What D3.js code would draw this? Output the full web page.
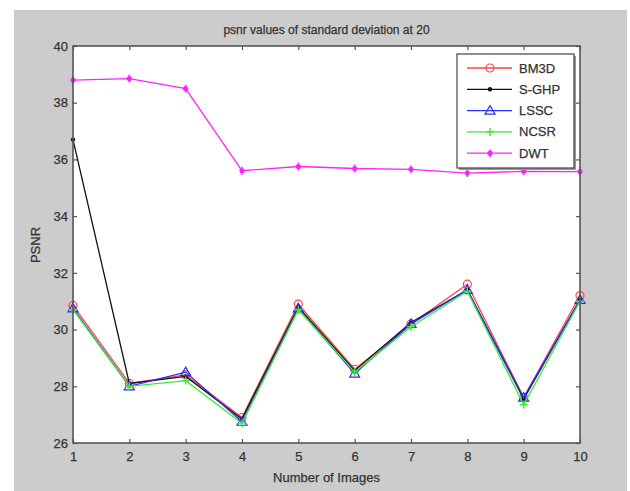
<!DOCTYPE html>
<html>
<head>
<meta charset="utf-8">
<script src="https://cdnjs.cloudflare.com/ajax/libs/d3/7.8.5/d3.min.js"></script>
<style>
    html, body { margin: 0; padding: 0; background: #fff; }
    svg text { font-family: "Liberation Sans", Arial, sans-serif; fill: #333; stroke: #333; stroke-width: 0.25px; }
</style>
</head>
<body>
<div id="chart"></div>
<script>
// data
var images = [1, 2, 3, 4, 5, 6, 7, 8, 9, 10];
var bm3d = [30.85, 28.1, 28.4, 26.9, 30.9, 28.6, 30.2, 31.6, 27.6, 31.2];
var sghp = [36.7, 28.1, 28.35, 26.85, 30.8, 28.55, 30.25, 31.4, 27.55, 31.05];
var lssc = [30.75, 28.0, 28.5, 26.75, 30.75, 28.45, 30.2, 31.4, 27.6, 31.05];
var ncsr = [30.7, 28.0, 28.2, 26.7, 30.7, 28.5, 30.1, 31.35, 27.35, 31.0];
var dwt = [38.8, 38.85, 38.5, 35.6, 35.75, 35.68, 35.65, 35.52, 35.58, 35.57];
var yTicks = [26, 28, 30, 32, 34, 36, 38, 40];
var seriesNames = ['BM3D', 'S-GHP', 'LSSC', 'NCSR', 'DWT'];
var seriesValues = [bm3d, sghp, lssc, ncsr, dwt];
var seriesColors = ['#ff4444', '#111111', '#2b2bff', '#33ee33', '#ff22ff'];
var seriesMarks = ['circle', 'dot', 'triangle', 'plus', 'star'];

var W = 630, H = 491;
var plot = { left: 73, top: 46, right: 580, bottom: 443 };

var svg = d3.select('#chart').append('svg')
    .attr('width', W).attr('height', H);

// figure background
svg.append('rect')
    .attr('x', 14).attr('y', 10)
    .attr('width', 613).attr('height', H - 10)
    .attr('fill', '#cccccc');

svg.append('rect')
    .attr('x', plot.left).attr('y', plot.top)
    .attr('width', plot.right - plot.left).attr('height', plot.bottom - plot.top)
    .attr('fill', '#ffffff');

var x = d3.scaleLinear().domain([1, 10]).range([plot.left, plot.right]);
var y = d3.scaleLinear().domain([26, 40]).range([plot.bottom, plot.top]);

function drawAxis(gen, tx, ty) {
    var g = svg.append('g').attr('transform', 'translate(' + tx + ',' + ty + ')').call(gen);
    g.select('.domain').remove();
    g.selectAll('line').attr('stroke', '#555').attr('stroke-width', 1.2);
    g.selectAll('text').style('font-size', '13px');
    return g;
}

// inward ticks on all four sides, like matlab's box on
var xb = drawAxis(d3.axisBottom(x).tickValues(images).tickSize(-4).tickPadding(9).tickFormat(d3.format('d')), 0, plot.bottom);
var xt = drawAxis(d3.axisTop(x).tickValues(images).tickSize(-4).tickFormat(''), 0, plot.top);
var yl = drawAxis(d3.axisLeft(y).tickValues(yTicks).tickSize(-4).tickPadding(5).tickFormat(d3.format('d')), plot.left, 0);
var yr = drawAxis(d3.axisRight(y).tickValues(yTicks).tickSize(-4).tickFormat(''), plot.right, 0);

function drawMark(g, kind, color, px, py) {
    if (kind == 'circle') {
        g.append('circle').attr('cx', px).attr('cy', py).attr('r', 4)
            .attr('fill', 'none').attr('stroke', color).attr('stroke-width', 1.2);
    } else if (kind == 'dot') {
        g.append('circle').attr('cx', px).attr('cy', py).attr('r', 2.2).attr('fill', color);
    } else if (kind == 'triangle') {
        var s = 5;
        g.append('path')
            .attr('d', 'M' + px + ',' + (py - s) + 'L' + (px + s) + ',' + (py + s * 0.7) + 'L' + (px - s) + ',' + (py + s * 0.7) + 'Z')
            .attr('fill', 'none').attr('stroke', color).attr('stroke-width', 1.2);
    } else if (kind == 'plus') {
        g.append('path')
            .attr('d', 'M' + (px - 4) + ',' + py + 'H' + (px + 4) + 'M' + px + ',' + (py - 4) + 'V' + (py + 4))
            .attr('stroke', color).attr('stroke-width', 1.4);
    } else {
        g.append('path')
            .attr('d', 'M' + px + ',' + (py - 4) + 'V' + (py + 4))
            .attr('stroke', color).attr('stroke-width', 1.4);
        g.append('circle').attr('cx', px).attr('cy', py).attr('r', 2.6).attr('fill', color);
    }
}

var line = d3.line()
    .x(function(d, i) { return x(images[i]); })
    .y(function(d) { return y(d); });

var lines = svg.append('g');
seriesValues.forEach(function(vals, k) {
    lines.append('path')
        .datum(vals)
        .attr('d', line)
        .attr('fill', 'none')
        .attr('stroke', seriesColors[k])
        .attr('stroke-width', 1.3);
    vals.forEach(function(v, i) {
        drawMark(lines, seriesMarks[k], seriesColors[k], x(images[i]), y(v));
    });
});

// axes box
svg.append('rect')
    .attr('x', plot.left).attr('y', plot.top)
    .attr('width', plot.right - plot.left).attr('height', plot.bottom - plot.top)
    .attr('fill', 'none').attr('stroke', '#555').attr('stroke-width', 1.6);

// legend
var lg = svg.append('g');
lg.append('rect')
    .attr('x', 459).attr('y', 56).attr('width', 117).attr('height', 114)
    .attr('fill', '#999');
lg.append('rect')
    .attr('x', 457).attr('y', 54).attr('width', 117).attr('height', 114)
    .attr('fill', '#fff').attr('stroke', '#444').attr('stroke-width', 1.2);
seriesNames.forEach(function(name, k) {
    var ly = 68 + k * 21.3;
    lg.append('line')
        .attr('x1', 467).attr('x2', 512).attr('y1', ly).attr('y2', ly)
        .attr('stroke', seriesColors[k]).attr('stroke-width', 1.3);
    drawMark(lg, seriesMarks[k], seriesColors[k], 490, ly);
    lg.append('text')
        .attr('x', 519).attr('y', ly).attr('dy', '0.35em')
        .style('font-size', '13px')
        .text(name);
});

// titles
svg.append('text')
    .attr('x', (plot.left + plot.right) / 2).attr('y', 34)
    .attr('text-anchor', 'middle')
    .style('font-size', '12px')
    .text('psnr values of standard deviation at 20');

svg.append('text')
    .attr('x', (plot.left + plot.right) / 2).attr('y', 482)
    .attr('text-anchor', 'middle')
    .style('font-size', '13px')
    .text('Number of Images');

svg.append('text')
    .attr('transform', 'translate(40,245) rotate(-90)')
    .attr('text-anchor', 'middle')
    .style('font-size', '13px')
    .text('PSNR');
</script>
</body>
</html>
